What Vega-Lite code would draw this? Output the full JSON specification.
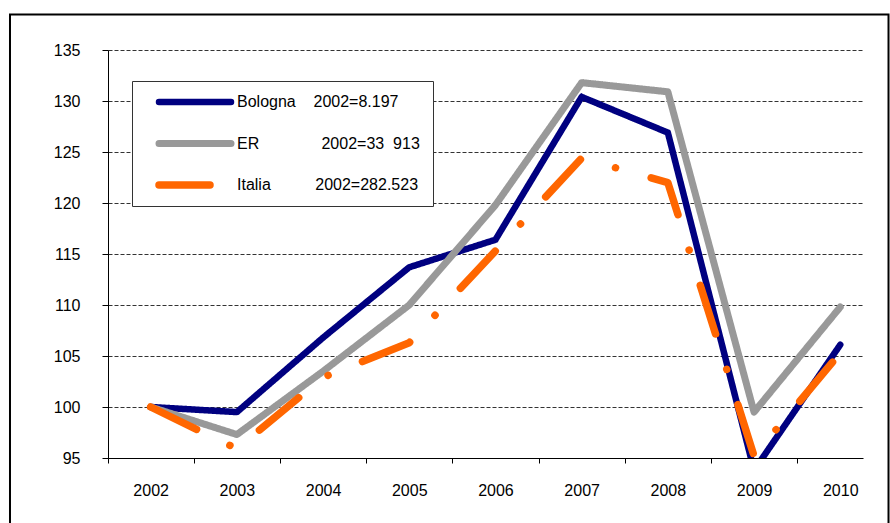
{
  "$schema": "https://vega.github.io/schema/vega-lite/v6.json",
  "width": 755,
  "height": 408,
  "autosize": {"type": "none"},
  "padding": {"left": 108, "top": 50, "right": 27, "bottom": 65},
  "background": "white",
  "title": {
    "text": "5\u00a0\u00a0\u00a0\u00a0\u00a0\u00a0\u00a0\u00a0Numeri indici delle esportazioni a prezzi costanti 2002 = 100",
    "anchor": "start",
    "frame": "group",
    "dx": -112,
    "offset": 44,
    "baseline": "alphabetic",
    "font": "Liberation Sans",
    "fontSize": 14,
    "fontWeight": "bold",
    "color": "black"
  },
  "config": {
    "view": {"stroke": null},
    "axis": {
      "domainColor": "black",
      "tickColor": "black",
      "labelColor": "black",
      "labelFont": "Liberation Sans",
      "labelFontSize": 16,
      "labelFlush": false,
      "labelOverlap": false
    }
  },
  "layer": [
    {
      "data": {"values": [{}]},
      "mark": {"type": "rect", "filled": false, "stroke": "black", "strokeWidth": 2, "clip": false},
      "encoding": {
        "x": {"datum": 2000.368, "type": "quantitative", "axis": {"title": null}},
        "x2": {"datum": 2010.56},
        "y": {"datum": 138.48, "type": "quantitative", "axis": {"title": null}},
        "y2": {"datum": 87.94}
      }
    },
    {
      "data": {
        "values": [
          {"year": 2002, "series": "Bologna", "value": 100},
          {"year": 2003, "series": "Bologna", "value": 99.5},
          {"year": 2004, "series": "Bologna", "value": 106.8},
          {"year": 2005, "series": "Bologna", "value": 113.7},
          {"year": 2006, "series": "Bologna", "value": 116.4},
          {"year": 2007, "series": "Bologna", "value": 130.4},
          {"year": 2008, "series": "Bologna", "value": 126.9},
          {"year": 2009, "series": "Bologna", "value": 93.8},
          {"year": 2010, "series": "Bologna", "value": 106.1},
          {"year": 2002, "series": "ER", "value": 100},
          {"year": 2003, "series": "ER", "value": 97.3},
          {"year": 2004, "series": "ER", "value": 103.5},
          {"year": 2005, "series": "ER", "value": 110.0},
          {"year": 2006, "series": "ER", "value": 119.8},
          {"year": 2007, "series": "ER", "value": 131.8},
          {"year": 2008, "series": "ER", "value": 130.9},
          {"year": 2009, "series": "ER", "value": 99.5},
          {"year": 2010, "series": "ER", "value": 109.8},
          {"year": 2002, "series": "Italia", "value": 100},
          {"year": 2003, "series": "Italia", "value": 95.9},
          {"year": 2004, "series": "Italia", "value": 102.9},
          {"year": 2005, "series": "Italia", "value": 106.3},
          {"year": 2006, "series": "Italia", "value": 115.3},
          {"year": 2007, "series": "Italia", "value": 124.4},
          {"year": 2008, "series": "Italia", "value": 122.0},
          {"year": 2009, "series": "Italia", "value": 95.2},
          {"year": 2010, "series": "Italia", "value": 105.3}
        ]
      },
      "mark": {"type": "line", "strokeCap": "round", "strokeJoin": "round", "clip": true},
      "encoding": {
        "x": {
          "field": "year",
          "type": "quantitative",
          "scale": {"domain": [2001.505, 2010.264], "nice": false, "zero": false},
          "axis": {
            "title": null,
            "values": [2002, 2003, 2004, 2005, 2006, 2007, 2008, 2009, 2010],
            "format": "d",
            "grid": false,
            "tickOffset": -43.1,
            "labelOffset": 43.1,
            "tickSize": 5,
            "labelPadding": 19
          }
        },
        "y": {
          "field": "value",
          "type": "quantitative",
          "scale": {"domain": [95, 135], "nice": false, "zero": false},
          "axis": {
            "title": null,
            "values": [95, 100, 105, 110, 115, 120, 125, 130, 135],
            "grid": true,
            "gridDash": [4, 2],
            "gridColor": "#333333",
            "gridOpacity": 1,
            "tickSize": 6,
            "labelPadding": 22
          }
        },
        "color": {
          "field": "series",
          "type": "nominal",
          "scale": {"domain": ["Bologna", "ER", "Italia"], "range": ["#000080", "#999999", "#FF6600"]},
          "legend": {
            "title": null,
            "orient": "none",
            "legendX": 24,
            "legendY": 31,
            "symbolType": "stroke",
            "symbolSize": 5184,
            "clipHeight": 16,
            "rowPadding": 25.5,
            "padding": 13,
            "fillColor": "white",
            "strokeColor": "#333333",
            "labelFont": "Liberation Sans",
            "labelFontSize": 16,
            "labelColor": "black",
            "labelOffset": 2,
            "symbolOffset": 10,
            "labelLimit": 400,
            "labelExpr": "datum.value == 'Bologna' ? 'Bologna\u00a0\u00a0\u00a0\u00a02002=8.197' : datum.value == 'ER' ? 'ER\u00a0\u00a0\u00a0\u00a0\u00a0\u00a0\u00a0\u00a0\u00a0\u00a0\u00a0\u00a0\u00a0\u00a02002=33\u00a0\u00a0913' : 'Italia\u00a0\u00a0\u00a0\u00a0\u00a0\u00a0\u00a0\u00a0\u00a0\u00a02002=282.523\u00a0\u00a0\u00a0'",
            "encode": {
              "symbols": {
                "update": {
                  "strokeDash": {"signal": "datum.value == 'Italia' ? [28, 17, 0.1, 17] : [1, 0]"},
                  "strokeWidth": {"signal": "datum.value == 'ER' ? 3 : 5"},
                  "strokeCap": {"value": "round"}
                }
              }
            }
          }
        },
        "strokeDash": {
          "field": "series",
          "type": "nominal",
          "scale": {"domain": ["Bologna", "ER", "Italia"], "range": [[1, 0], [1, 0], [51, 37, 0.1, 37]]}
        },
        "strokeWidth": {
          "field": "series",
          "type": "nominal",
          "scale": {"domain": ["Bologna", "ER", "Italia"], "range": [6.5, 7.5, 8]}
        }
      }
    }
  ]
}
